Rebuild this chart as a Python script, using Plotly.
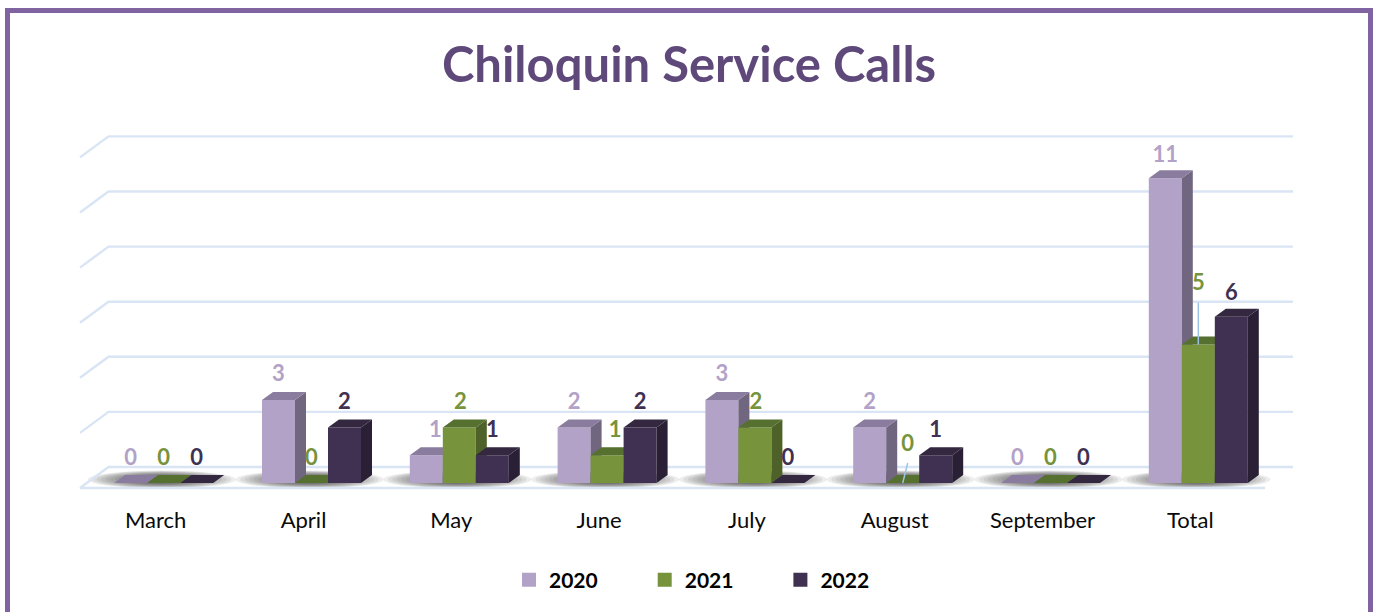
import plotly.graph_objects as go

categories = ["March", "April", "May", "June", "July", "August", "September", "Total"]
series_names = ["2020", "2021", "2022"]
values_2020 = [0, 3, 1, 2, 3, 2, 0, 11]
values_2021 = [0, 0, 2, 1, 2, 0, 0, 5]
values_2022 = [0, 2, 1, 2, 0, 1, 0, 6]
wall_levels = [0, 2, 4, 6, 8, 10, 12]

front_colors = ["#B3A2C7", "#77933C", "#403152"]
top_colors = ["#8A7C9E", "#56702F", "#33283F"]
side_colors = ["#706680", "#4E6128", "#2A2036"]
FONT = "Lato"

W, H = 1375, 612
T, B = 100, 505           # plot area top/bottom in px
PX_X, PX_Y = 147.8, 27.7  # px per category, px per value
X0, Y0 = 163.7, 483       # px of first category centre, of value zero
bar_w = 33 / PX_X
dx, dy = 11 / PX_X, 8 / PX_Y
wall_dx, wall_dy = 28.5 / PX_X, 21 / PX_Y
wall_scale = 27.55 / PX_Y
back_shift = 16 / PX_Y
grid_x0 = (108.5 - X0) / PX_X
grid_x1 = (1293 - X0) / PX_X
x_range = [-X0 / PX_X, (W - X0) / PX_X]
y_range = [(Y0 - B) / PX_Y, (Y0 - T) / PX_Y]

all_values = [values_2020, values_2021, values_2022]
fig = go.Figure()

# wall and floor guide lines
gx, gy = [], []
for lv in wall_levels:
    y = lv * wall_scale + back_shift
    gx += [grid_x1, grid_x0, grid_x0 - wall_dx, None]
    gy += [y, y, y - wall_dy, None]
gx += [grid_x0 - wall_dx, (1265 - X0) / PX_X]
gy += [back_shift - wall_dy, back_shift - wall_dy]
fig.add_trace(go.Scatter(x=gx, y=gy, mode="lines", line=dict(color="#D9E5F4", width=2.4),
                         showlegend=False, hoverinfo="skip"))

# soft floor shadow under every cluster
shapes = []
for i in range(len(categories)):
    cx = i - 2 / PX_X
    for k in range(14):
        hw = (74 - k * 4.5) / PX_X
        hh = (9 - k * 0.45) / PX_Y
        cy = (Y0 - 479.5) / PX_Y
        shapes.append(dict(type="circle", xref="x", yref="y", layer="below",
                           x0=cx - hw, x1=cx + hw, y0=cy - hh, y1=cy + hh,
                           fillcolor="rgba(60,60,60,0.09)", line=dict(width=0)))

# frame
def py(p):
    return (B - p) / (B - T)
shapes.append(dict(type="path", xref="paper", yref="paper", layer="above",
                   path=f"M {7.5/W},{py(640)} L {7.5/W},{py(10.5)} L {1370.5/W},{py(10.5)} L {1370.5/W},{py(640)}",
                   line=dict(color="#8064A2", width=5)))

# bars, each series on its own overlay so later bars hide earlier side faces
for s, (name, vals) in enumerate(zip(series_names, all_values)):
    ax_n = s + 2
    xa, ya = f"x{ax_n}", f"y{ax_n}"
    off = (s - 1.5) * bar_w
    tx, ty, sx, sy = [], [], [], []
    for i, v in enumerate(vals):
        xl, xr = i + off, i + off + bar_w
        tx += [xl, xl + dx, xr + dx, xr, xl, None]
        ty += [v, v + dy, v + dy, v, v, None]
        if v > 0:
            sx += [xr, xr + dx, xr + dx, xr, xr, None]
            sy += [0, dy, v + dy, v, 0, None]
    fig.add_trace(go.Bar(x=list(range(len(categories))), y=vals, name=name, width=bar_w, offset=off,
                         marker=dict(color=front_colors[s], line=dict(width=0)), showlegend=False,
                         legendgroup=name, xaxis=xa, yaxis=ya,
                         hovertemplate="%{y}<extra>" + name + "</extra>"))
    # empty proxy: only supplies the slightly larger legend swatch
    fig.add_trace(go.Bar(x=[None], y=[None], name=name, legendgroup=name,
                         marker=dict(color=front_colors[s], line=dict(width=2, color=front_colors[s])),
                         xaxis=xa, yaxis=ya, hoverinfo="skip"))
    fig.add_trace(go.Scatter(x=sx, y=sy, mode="lines", fill="toself", fillcolor=side_colors[s],
                             line=dict(width=0), showlegend=False, hoverinfo="skip", xaxis=xa, yaxis=ya))
    fig.add_trace(go.Scatter(x=tx, y=ty, mode="lines", fill="toself", fillcolor=top_colors[s],
                             line=dict(width=0), showlegend=False, hoverinfo="skip", xaxis=xa, yaxis=ya))

# data labels: nudges in px keyed by (series index, category index)
label_nudges = {(0, 2): (9, 0), (1, 3): (8, 0), (1, 5): (5, 14), (1, 7): (0, 36),
                (1, 2): (1, 0), (1, 4): (1, 0), (2, 7): (0, -2), (0, 7): (0, -2)}
label_lift = 24
for s, vals in enumerate(all_values):
    lx, ly = [], []
    for i, v in enumerate(vals):
        nx, ny = label_nudges.get((s, i), (0, 0))
        lx.append(i + (s - 1) * bar_w + nx / PX_X)
        ly.append(v + (label_lift + ny) / PX_Y)
    fig.add_trace(go.Scatter(x=lx, y=ly, mode="text", text=[str(v) for v in vals],
                             textposition="middle center", cliponaxis=False,
                             textfont=dict(family=FONT, size=22, color=front_colors[s], weight="bold"),
                             showlegend=False, hoverinfo="skip", xaxis="x5", yaxis="y5"))

# leader lines of the two displaced labels
i_t, i_a = categories.index("Total"), categories.index("August")
fig.add_trace(go.Scatter(
    x=[i_t, i_t, None, i_a + 5 / PX_X, i_a + 0 / PX_X],
    y=[values_2021[i_t], values_2021[i_t] + 42 / PX_Y, None,
       values_2021[i_a] + 20 / PX_Y, values_2021[i_a]],
    mode="lines", line=dict(color="#9DC3E6", width=1.5), showlegend=False, hoverinfo="skip",
    xaxis="x5", yaxis="y5"))

layout_axes = {}
for n in range(2, 6):
    layout_axes[f"xaxis{n}"] = dict(overlaying="x", range=x_range, visible=False, fixedrange=True)
    layout_axes[f"yaxis{n}"] = dict(overlaying="y", range=y_range, visible=False, fixedrange=True)

fig.update_layout(
    width=W, height=H, autosize=False,
    margin=dict(l=0, r=0, t=T, b=H - B),
    paper_bgcolor="white", plot_bgcolor="white",
    barmode="overlay",
    title=dict(text="<b>Chiloquin Service Calls</b>", x=689 / W, xanchor="center", xref="paper",
               y=1 - 65 / H, yanchor="middle", yref="container",
               font=dict(family=FONT, size=49, color="#5F497A")),
    xaxis=dict(range=x_range, tickmode="array",
               tickvals=[i - 8 / PX_X for i in range(len(categories))], ticktext=categories,
               showgrid=False, zeroline=False, showline=False, ticks="",
               tickfont=dict(family=FONT, size=22, color="#0A0A0A"), fixedrange=True),
    yaxis=dict(range=y_range, visible=False, fixedrange=True),
    legend=dict(orientation="h", xref="container", yref="container", x=509 / W, y=1 - 580 / H,
                xanchor="left", yanchor="middle", entrywidth=90.7, entrywidthmode="pixels",
                font=dict(family=FONT, size=21, color="black", weight="bold"),
                traceorder="normal", bgcolor="rgba(0,0,0,0)"),
    shapes=shapes,
    **layout_axes,
)
fig.write_html("out.html", config={"displayModeBar": False},
               post_script="document.body.style.margin='0';document.documentElement.style.overflow='hidden';")
